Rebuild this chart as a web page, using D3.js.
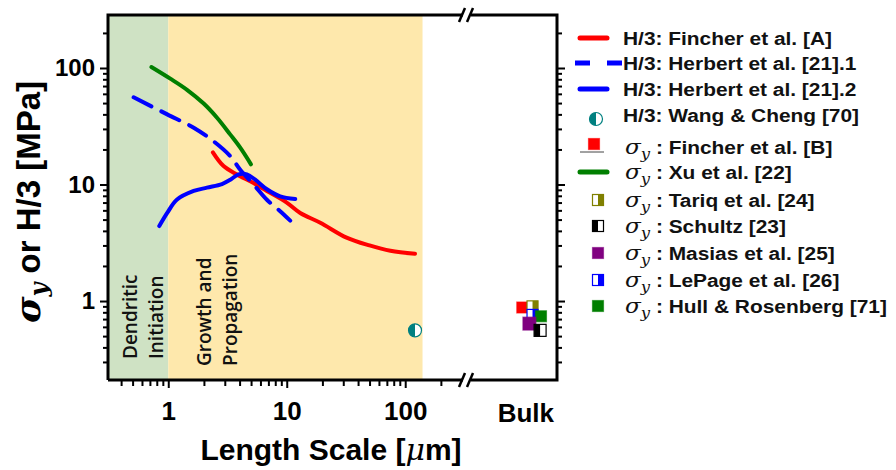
<!DOCTYPE html>
<html>
<head>
<meta charset="utf-8">
<script src="https://cdn.jsdelivr.net/npm/d3@7"></script>
<style>
  body { margin: 0; background: #fff; }
  svg text { font-family: "Liberation Sans", Arial, sans-serif; }
</style>
</head>
<body>
<svg id="chart" width="896" height="470"></svg>
<script>
// ---- data ----
// H/3 and yield strength vs. length scale (μm, MPa)
const fincherLength   = [2.38, 2.93, 3.8, 5.25, 6.8, 10, 13, 19.2, 32, 50, 75, 121];
const fincherHardness = [18.9, 14.4, 12.2, 10.3, 8.8, 7.0, 5.7, 4.7, 3.5, 3.0, 2.7, 2.54];

const herbert1Length   = [0.51, 0.98, 1.64, 2.41, 3.34, 4.05, 5.25, 6.8, 8.8, 10.7];
const herbert1Hardness = [56, 40, 30.7, 23.5, 17.5, 13.4, 10, 7.4, 5.9, 4.9];

const herbert2Length   = [0.84, 0.98, 1.18, 1.64, 2.12, 2.84, 3.34, 3.92, 4.61, 5.42, 6.8, 8.8, 11.8];
const herbert2Hardness = [4.4, 5.7, 7.4, 8.8, 9.4, 10.1, 11.0, 12.2, 12.2, 11.0, 9.1, 7.9, 7.5];

const xuLength = [0.72, 1.04, 1.44, 1.99, 2.58, 3.34, 4.05, 4.99];
const xuStress = [102, 81, 65, 49.5, 37.4, 26.8, 20.7, 14.9];

const wangLength = [121];
const wangHardness = [0.56];

// bulk yield strengths, with position inside the "Bulk" column (0..1)
const bulkNames  = ["Fincher et al. [B]", "Tariq et al. [24]", "LePage et al. [26]", "Hull & Rosenberg [71]", "Masias et al. [25]", "Schultz [23]"];
const bulkStress = [0.88, 0.90, 0.76, 0.74, 0.64, 0.56];
const bulkSlot   = [0.61, 0.725, 0.725, 0.82, 0.69, 0.81];

// shaded regimes (μm)
const regimeNames = [["Dendritic", "Initiation"], ["Growth and", "Propagation"]];
const regimeFrom  = [0.31, 1];
const regimeTo    = [1, 140];

// axis ticks
const yTicks = [0.3,0.4,0.5,0.6,0.7,0.8,0.9,1,2,3,4,5,6,7,8,9,10,20,30,40,50,60,70,80,90,100,200];
const xTicks = [0.4,0.5,0.6,0.7,0.8,0.9,1,2,3,4,5,6,7,8,9,10,20,30,40,50,60,70,80,90,100,200];
const majorTicks = [1, 10, 100];

// ---- layout ----
const svg = d3.select("#chart");
const L = 108, R = 557, T = 15, B = 380;
const breakX = 463;

const x = d3.scaleLog().domain([0.31, 290]).range([L, 460]);
const bulkX = d3.scaleLinear().domain([0, 1]).range([468, R]);
const y = d3.scaleLog().domain([0.21, 285]).range([B, T]);

const colors = {
  red: "#ff0000", blue: "#0000ff", green: "#007f00", teal: "#008080",
  olive: "#808000", purple: "#800080", black: "#000000",
  regimes: ["#cfe2c4", "#fee8ac"]
};

// regime shading
svg.append("g").selectAll("rect").data(regimeFrom).join("rect")
  .attr("x", (d) => x(d))
  .attr("width", (d, i) => x(regimeTo[i]) - x(d))
  .attr("y", T).attr("height", B - T)
  .attr("fill", (d, i) => colors.regimes[i]);

// regime labels (rotated)
const regimeFont = "'Open Sans', sans-serif";
const regimeLabelPos = [[137, 163, 359], [211, 237, 366]];
regimeNames.forEach((lines, i) => {
  lines.forEach((txt, j) => {
    svg.append("text")
      .attr("transform", `translate(${regimeLabelPos[i][j]},${regimeLabelPos[i][2]}) rotate(-90)`)
      .style("font-family", regimeFont)
      .attr("font-size", 19)
      .attr("font-weight", 600)
      .attr("fill", "#111")
      .text(txt);
  });
});

// lines
const line = d3.line().x(d => x(d[0])).y(d => y(d[1])).curve(d3.curveCatmullRom.alpha(0.5));
const series = [
  { xs: fincherLength, ys: fincherHardness, color: colors.red, dash: null },
  { xs: xuLength, ys: xuStress, color: colors.green, dash: null },
  { xs: herbert1Length, ys: herbert1Hardness, color: colors.blue, dash: "20,11" },
  { xs: herbert2Length, ys: herbert2Hardness, color: colors.blue, dash: null }
];
svg.append("g").selectAll("path").data(series).join("path")
  .attr("d", s => line(d3.zip(s.xs, s.ys)))
  .attr("fill", "none")
  .attr("stroke", s => s.color)
  .attr("stroke-width", 4)
  .attr("stroke-dasharray", s => s.dash)
  .attr("stroke-linecap", "round");

// marker helpers
function halfCircle(g, cx, cy, r, color) {
  g.append("circle").attr("cx", cx).attr("cy", cy).attr("r", r)
    .attr("fill", "#fff").attr("stroke", color).attr("stroke-width", 1.2);
  g.append("path")
    .attr("d", `M${cx},${cy - r} A${r},${r} 0 0 0 ${cx},${cy + r} Z`)
    .attr("fill", color);
}
function square(g, cx, cy, s, color, half) {
  // half: null = solid, "left" = left half filled, "right" = right half filled
  g.append("rect").attr("x", cx - s / 2).attr("y", cy - s / 2).attr("width", s).attr("height", s)
    .attr("fill", half ? "#fff" : color).attr("stroke", color).attr("stroke-width", 1.2)
    .attr("stroke-opacity", half ? 1 : 0.6);
  if (half) {
    g.append("rect")
      .attr("x", half === "left" ? cx - s / 2 : cx)
      .attr("y", cy - s / 2).attr("width", s / 2).attr("height", s)
      .attr("fill", color);
  }
}

// Wang & Cheng point
const gPts = svg.append("g");
wangLength.forEach((v, i) => halfCircle(gPts, x(v), y(wangHardness[i]), 6.5, colors.teal));

// bulk points
const bulkStyle = [
  { color: colors.red, half: null, size: 11 },
  { color: colors.olive, half: "right", size: 11 },
  { color: colors.blue, half: "right", size: 11 },
  { color: colors.green, half: null, size: 11 },
  { color: colors.purple, half: null, size: 13 },
  { color: colors.black, half: "left", size: 12 }
];
bulkStress.forEach((v, i) => {
  const st = bulkStyle[i];
  square(gPts, bulkX(bulkSlot[i]), y(v), st.size, st.color, st.half);
});

// ---- axes ----
const fmt = d => majorTicks.includes(d) ? d3.format("d")(d) : "";
function styleTicks(g, major, minor) {
  g.select(".domain").remove();
  g.selectAll(".tick line")
    .attr("stroke", "#000").attr("stroke-width", 2);
  g.selectAll(".tick").each(function (d) {
    const isMajor = majorTicks.includes(d);
    const ln = d3.select(this).select("line");
    const a = ln.attr("x2") !== null && +ln.attr("x2") !== 0 ? "x2" : "y2";
    const sign = Math.sign(+ln.attr(a));
    ln.attr(a, sign * (isMajor ? major : minor));
  });
}

const gy = svg.append("g").attr("transform", `translate(${L},0)`)
  .call(d3.axisLeft(y).tickValues(yTicks).tickFormat(fmt).tickSize(5).tickPadding(8));
styleTicks(gy, 8, 5);
gy.selectAll(".tick text").attr("font-size", 24).attr("font-weight", "bold")
  .attr("font-family", "'Liberation Sans', Arial, sans-serif").attr("fill", "#000");

const gyr = svg.append("g").attr("transform", `translate(${R},0)`)
  .call(d3.axisRight(y).tickValues(yTicks).tickFormat("").tickSize(5));
styleTicks(gyr, 8, 5);

const gx = svg.append("g").attr("transform", `translate(0,${B})`)
  .call(d3.axisBottom(x).tickValues(xTicks).tickFormat(fmt).tickSize(6).tickPadding(16));
styleTicks(gx, 8, 6);
gx.selectAll(".tick text").attr("font-size", 26).attr("font-weight", "bold")
  .attr("font-family", "'Liberation Sans', Arial, sans-serif").attr("fill", "#000");

// Bulk category label
svg.append("text").attr("x", bulkX(0.65)).attr("y", 422)
  .attr("text-anchor", "middle").attr("font-size", 26).attr("font-weight", "bold").text("Bulk");

// frame with axis breaks
const frame = svg.append("g").attr("stroke", "#000").attr("stroke-width", 3).attr("fill", "none");
frame.append("path").attr("d", `M${L},${B} V${T} H${breakX}`);
frame.append("path").attr("d", `M${breakX + 8},${T} H${R} V${B} H${breakX + 8}`);
frame.append("path").attr("d", `M${L},${B} H${breakX}`);
[T, B].forEach(yy => {
  [breakX - 1, breakX + 7].forEach(bx => {
    frame.append("line").attr("x1", bx - 3).attr("y1", yy + 7).attr("x2", bx + 3).attr("y2", yy - 7)
      .attr("stroke-width", 2.5);
  });
});

// axis titles
const yTitle = svg.append("text")
  .attr("transform", "translate(40,202) rotate(-90)")
  .attr("text-anchor", "middle").attr("font-weight", "bold").attr("font-size", 33);
yTitle.append("tspan").style("font-family", "'DejaVu Serif', serif").attr("font-style", "italic").attr("font-size", 36).text("σ");
yTitle.append("tspan").style("font-family", "'DejaVu Serif', serif").attr("font-style", "italic").attr("font-size", 24).attr("dy", 7).text("y");
yTitle.append("tspan").attr("dy", -7).text(" or H/3 [MPa]");

const xTitle = svg.append("text").attr("x", 331).attr("y", 460)
  .attr("text-anchor", "middle").attr("font-weight", "bold").attr("font-size", 30);
xTitle.append("tspan").text("Length Scale [");
xTitle.append("tspan").style("font-family", "'DejaVu Serif', serif").attr("font-style", "italic").attr("font-weight", "normal").text("μ");
xTitle.append("tspan").text("m]");

// ---- legend ----
const legendLabels = [
  "H/3: Fincher et al. [A]", "H/3: Herbert et al. [21].1", "H/3: Herbert et al. [21].2", "H/3: Wang & Cheng [70]",
  ": Fincher et al. [B]", ": Xu et al. [22]", ": Tariq et al. [24]", ": Schultz [23]",
  ": Masias et al. [25]", ": LePage et al. [26]", ": Hull & Rosenberg [71]"
];
const legendRowY = [38, 63, 89, 115, 147, 172, 200, 226, 253, 280, 306];
const legendKey = [
  { kind: "line", color: colors.red },
  { kind: "dash", color: colors.blue },
  { kind: "line", color: colors.blue },
  { kind: "circle", color: colors.teal },
  { kind: "squareLine", color: colors.red },
  { kind: "line", color: colors.green },
  { kind: "square", color: colors.olive, half: "right" },
  { kind: "square", color: colors.black, half: "left" },
  { kind: "square", color: colors.purple },
  { kind: "square", color: colors.blue, half: "right" },
  { kind: "square", color: colors.green }
];
const gLeg = svg.append("g");
legendLabels.forEach((lab, i) => {
  const cy = legendRowY[i];
  const k = legendKey[i];
  if (k.kind === "line") {
    gLeg.append("line").attr("x1", 580).attr("x2", 607).attr("y1", cy).attr("y2", cy)
      .attr("stroke", k.color).attr("stroke-width", 5).attr("stroke-linecap", "round");
  } else if (k.kind === "dash") {
    gLeg.append("line").attr("x1", 575).attr("x2", 622).attr("y1", cy).attr("y2", cy)
      .attr("stroke", k.color).attr("stroke-width", 5).attr("stroke-dasharray", "15,17");
  } else if (k.kind === "circle") {
    halfCircle(gLeg, 596, cy + 4, 6.5, k.color);
  } else if (k.kind === "squareLine") {
    gLeg.append("line").attr("x1", 580).attr("x2", 604).attr("y1", cy + 5).attr("y2", cy + 5)
      .attr("stroke", "#444").attr("stroke-width", 1);
    square(gLeg, 594, cy - 3, 11, k.color, null);
  } else {
    square(gLeg, 598, cy, 11, k.color, k.half || null);
  }
  const isSigma = i >= 4;
  const t = gLeg.append("text")
    .attr("transform", `translate(${isSigma ? 625 : 623},${cy}) scale(1.1,1)`)
    .attr("dy", "0.36em").attr("font-weight", "bold").attr("font-size", 19).attr("fill", "#111");
  if (isSigma) {
    t.append("tspan").style("font-family", "'DejaVu Serif', serif").attr("font-style", "italic").attr("font-weight", "normal").attr("font-size", 21).text("σ");
    t.append("tspan").style("font-family", "'DejaVu Serif', serif").attr("font-style", "italic").attr("font-weight", "normal").attr("font-size", 15).attr("dy", 5).text("y");
    t.append("tspan").attr("dy", -5).text(" " + lab);
  } else {
    t.text(lab);
  }
});
</script>
</body>
</html>
